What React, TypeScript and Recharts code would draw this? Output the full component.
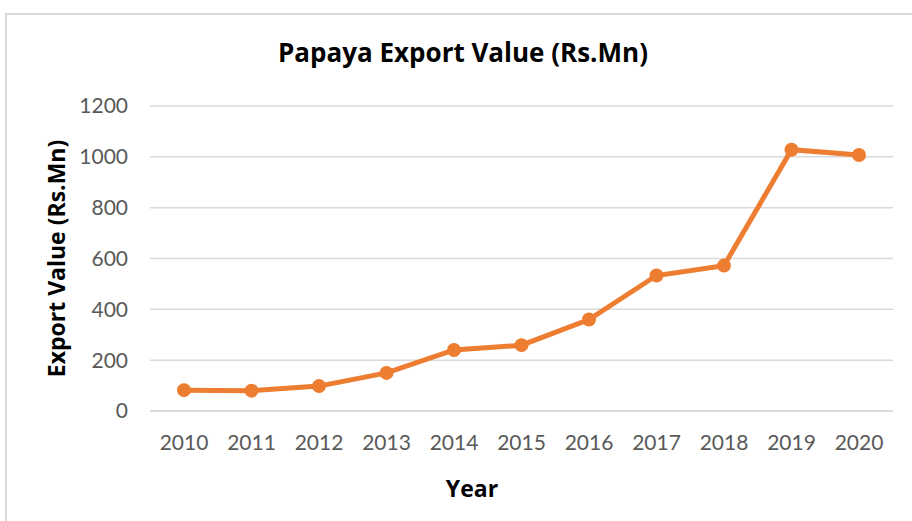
import React from 'react';
import { LineChart, Line, XAxis, YAxis, CartesianGrid } from 'recharts';

const years = ['2010', '2011', '2012', '2013', '2014', '2015', '2016', '2017', '2018', '2019', '2020'];
const exportValues = [82, 80, 98, 150, 240, 259, 360, 533, 572, 1028, 1007];
const yTicks = [0, 200, 400, 600, 800, 1000, 1200];

const data = years.map((year, i) => ({ year, value: exportValues[i] }));

const FONT = 'Lato, "Open Sans", sans-serif';
const BOLD_FONT = '"Open Sans", Lato, sans-serif';

const XTitle = (props: any) => {
  const vb = props.viewBox || {};
  return (
    <text x={472} y={(vb.y || 411) + 86} textAnchor="middle" fontFamily={BOLD_FONT} fontWeight={700} fontSize={23} fill="#000">
      Year
    </text>
  );
};

const YTitle = (props: any) => {
  const vb = props.viewBox || {};
  const cy = (vb.y || 106) + (vb.height || 305) / 2;
  return (
    <text x={65} y={cy} transform={`rotate(-90, 65, ${cy})`} textAnchor="middle" fontFamily={BOLD_FONT} fontWeight={700} fontSize={23} fill="#000">
      Export Value (Rs.Mn)
    </text>
  );
};

export default function App() {
  return (
    <div style={{ position: 'absolute', left: 0, top: 0, width: 912, height: 521, overflow: 'hidden', background: '#fff' }}>
      <div style={{ position: 'absolute', left: 5, top: 13, width: 1000, height: 1000, border: '2px solid #d9d9d9', boxSizing: 'border-box' }} />
      <div style={{ position: 'absolute', left: 0, top: 0 }}>
        <LineChart width={912} height={521} data={data} margin={{ top: 106, right: 19, bottom: 0, left: 0 }}>
          <text x={463} y={62} textAnchor="middle" fontFamily={BOLD_FONT} fontWeight={700} fontSize={26} fill="#000">
            Papaya Export Value (Rs.Mn)
          </text>
          <CartesianGrid vertical={false} stroke="#d9d9d9" strokeWidth={1.5} />
          <XAxis
            dataKey="year"
            height={110}
            padding={{ left: 34, right: 34 }}
            axisLine={{ stroke: '#d9d9d9', strokeWidth: 1.5 }}
            tickLine={false}
            tickSize={0}
            tickMargin={24}
            tick={{ fill: '#595959', fontSize: 21, fontFamily: FONT }}
            interval={0}
            label={{ content: XTitle }}
          />
          <YAxis
            width={150}
            domain={[0, 1200]}
            ticks={yTicks}
            axisLine={false}
            tickLine={false}
            tickSize={0}
            tickMargin={22}
            tick={{ fill: '#595959', fontSize: 21, fontFamily: FONT }}
            label={{ content: YTitle }}
          />
          <Line
            type="linear"
            dataKey="value"
            stroke="#ED7D31"
            strokeWidth={5}
            dot={{ r: 7, fill: '#ED7D31', stroke: '#ED7D31', strokeWidth: 0 }}
            isAnimationActive={false}
          />
        </LineChart>
      </div>
    </div>
  );
}
